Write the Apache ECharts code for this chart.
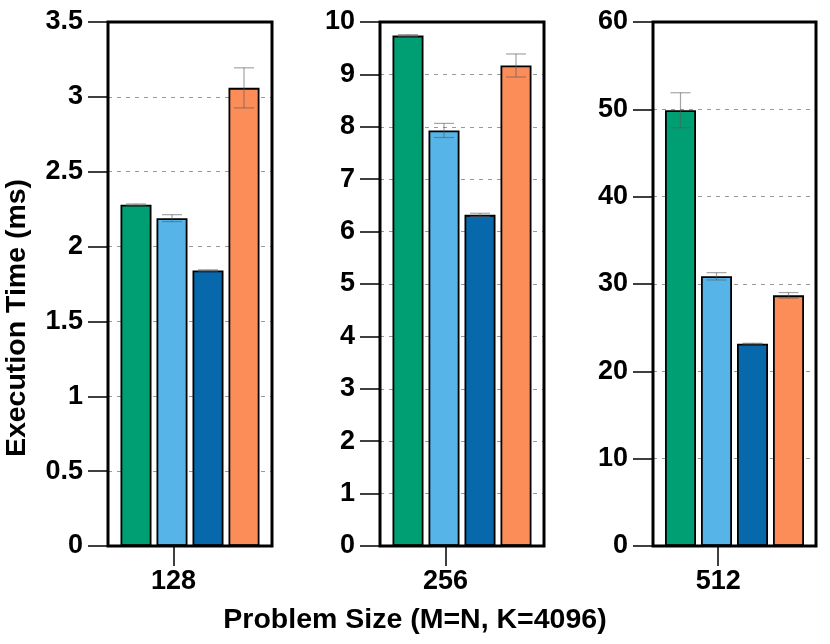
<!DOCTYPE html>
<html>
<head>
<meta charset="utf-8">
<script src="https://cdn.jsdelivr.net/npm/echarts@6/dist/echarts.min.js"></script>
<style>html,body{margin:0;padding:0;background:#fff;}#c{width:830px;height:644px;}</style>
</head>
<body>
<div id="c"></div>
<script>
// ---- data ----
const categories = ['128', '256', '512'];
const barColors = ['#009E73', '#56B4E9', '#0868AC', '#FC8D59'];
// mean execution time (ms) per bar, order: green, light blue, dark blue, orange
const means128 = [2.28, 2.19, 1.84, 3.06];
const errs128  = [0.005, 0.023, 0.005, 0.134];
const means256 = [9.74, 7.93, 6.32, 9.17];
const errs256  = [0.02, 0.135, 0.03, 0.22];
const means512 = [49.9, 30.88, 23.16, 28.7];
const errs512  = [2.0, 0.42, 0.05, 0.32];
const yMax = [3.5, 10, 60];
const yInterval = [0.5, 1, 10];
const xTitle = 'Problem Size (M=N, K=4096)';
const yTitle = 'Execution Time (ms)';

const panelMeans = [means128, means256, means512];
const panelErrs = [errs128, errs256, errs512];

// ---- layout / style ----
const FONT = 'Liberation Sans';
const grids = [
  {left: 108, top: 22, width: 164, height: 524},
  {left: 380, top: 22, width: 164, height: 524},
  {left: 653, top: 22, width: 163, height: 524}
];
const BAR_W = 31, BAR_GAP = 5;

const option = {
  animation: false,
  backgroundColor: '#fff',
  grid: grids.map(g => Object.assign({show: false}, g)),
  xAxis: [],
  yAxis: [],
  series: [],
  graphic: [
    {type: 'text', left: 'center', top: 606, style: {text: xTitle, font: 'bold 28.5px "' + FONT + '"', fill: '#000'}},
    {type: 'text', x: 17, y: 318, rotation: Math.PI / 2,
     style: {text: yTitle, font: 'bold 28.5px "' + FONT + '"', fill: '#000', align: 'center', verticalAlign: 'middle'}}
  ].concat(grids.map(g => ({
    type: 'rect', z: 100, silent: true,
    shape: {x: g.left, y: g.top, width: g.width, height: g.height},
    style: {fill: 'none', stroke: '#000', lineWidth: 3}
  })))
};

categories.forEach((cat, p) => {
  // bar axis
  option.xAxis.push({
    type: 'category', gridIndex: p, data: [cat],
    axisLine: {show: false}, axisTick: {show: false}, axisLabel: {show: false}, splitLine: {show: false}
  });
  // label axis (tick placed at 40% of the panel)
  option.xAxis.push({
    type: 'category', gridIndex: p, boundaryGap: false, position: 'bottom',
    data: ['', '', cat, '', '', ''],
    axisLine: {show: false},
    axisTick: {show: true, length: 20, interval: (i) => i === 2, lineStyle: {color: '#000', width: 1.5}},
    axisLabel: {show: true, interval: (i) => i === 2, margin: 22, color: '#000', fontFamily: FONT, fontWeight: 'bold', fontSize: 27},
    splitLine: {show: false}
  });
  option.yAxis.push({
    type: 'value', gridIndex: p, min: 0, max: yMax[p], interval: yInterval[p],
    axisLine: {show: false},
    axisTick: {show: true, length: 20, lineStyle: {color: '#000', width: 1.5}},
    axisLabel: {margin: 25, color: '#000', fontFamily: FONT, fontWeight: 'bold', fontSize: 27},
    splitLine: {show: true, showMinLine: false, showMaxLine: false, lineStyle: {color: '#999', width: 1, type: [4, 5]}}
  });
  for (let s = 0; s < 4; s++) {
    option.series.push({
      type: 'bar', xAxisIndex: p * 2, yAxisIndex: p,
      data: [panelMeans[p][s]],
      barWidth: BAR_W, barGap: (BAR_GAP / BAR_W * 100) + '%',
      itemStyle: {color: barColors[s], borderColor: '#000', borderWidth: 1.8},
      z: 2
    });
  }
  option.series.push({
    type: 'custom', xAxisIndex: p * 2, yAxisIndex: p, z: 5,
    data: panelMeans[p].map((m, s) => [0, m, panelErrs[p][s], s]),
    renderItem: function (params, api) {
      const m = api.value(1), e = api.value(2), s = api.value(3);
      const c = api.coord([0, m]);
      const x = c[0] + (s - 1.5) * (BAR_W + BAR_GAP);
      const yHi = api.coord([0, m + e])[1];
      const yLo = api.coord([0, m - e])[1];
      const st = {stroke: 'rgba(90,90,90,0.55)', lineWidth: 1.2};
      return {type: 'group', children: [
        {type: 'line', shape: {x1: x, y1: yHi, x2: x, y2: yLo}, style: st},
        {type: 'line', shape: {x1: x - 10, y1: yHi, x2: x + 10, y2: yHi}, style: st},
        {type: 'line', shape: {x1: x - 10, y1: yLo, x2: x + 10, y2: yLo}, style: st}
      ]};
    }
  });
});

const chart = echarts.init(document.getElementById('c'), null, {renderer: 'canvas'});
chart.setOption(option);
</script>
</body>
</html>
